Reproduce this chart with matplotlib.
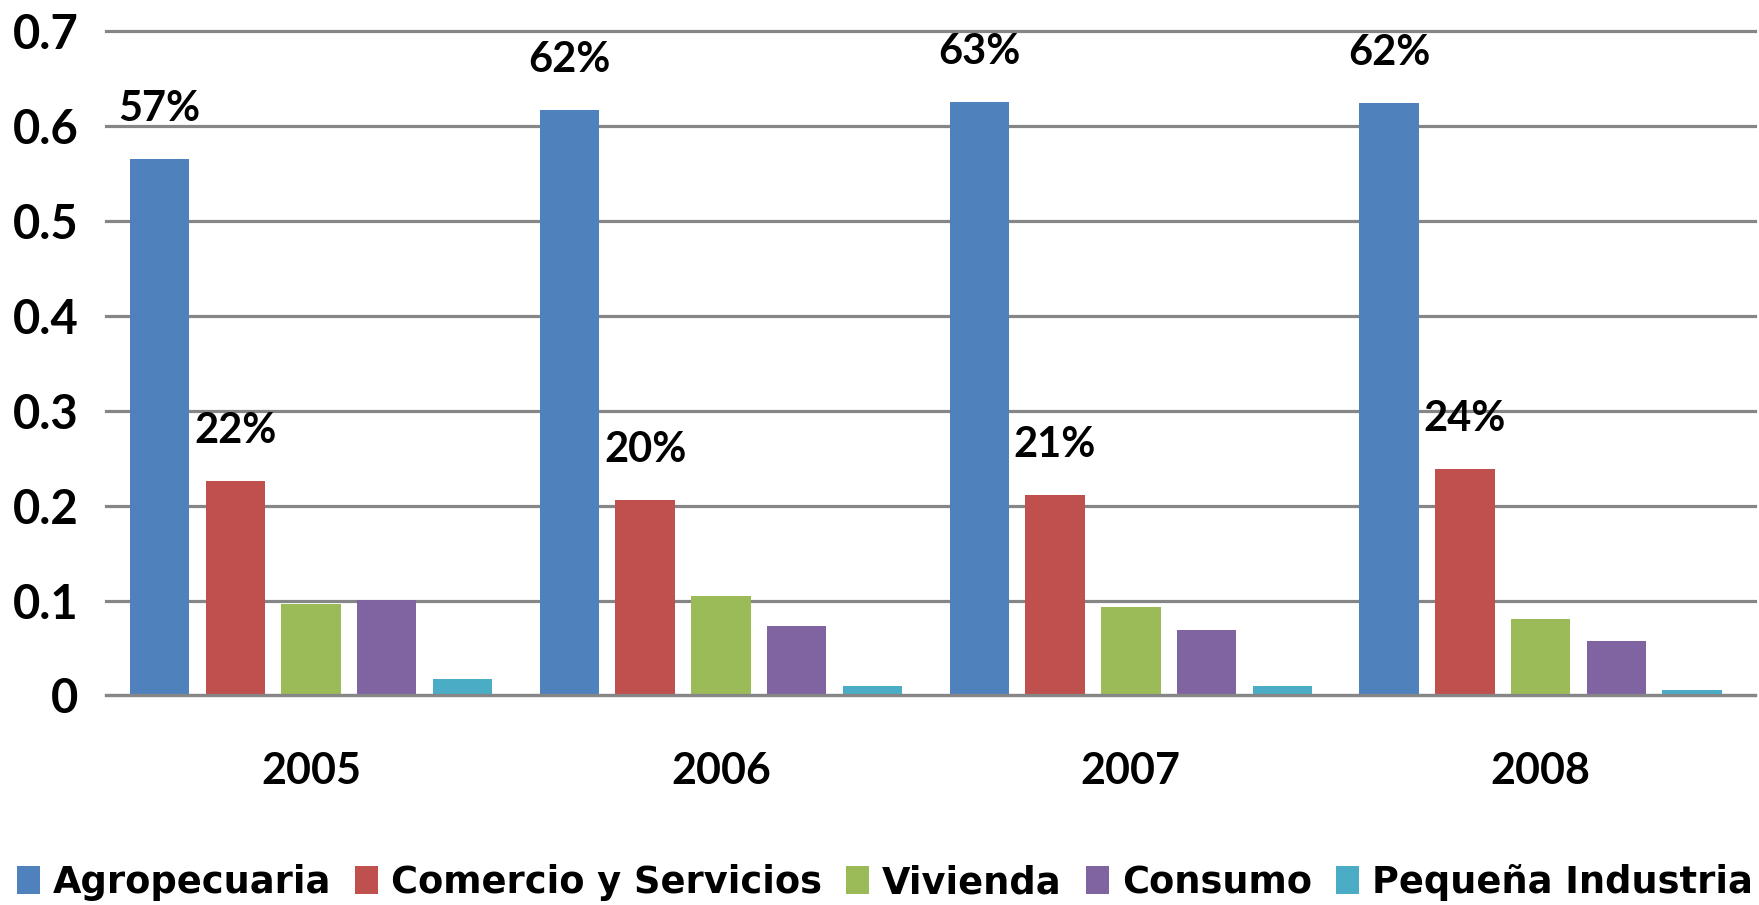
import numpy as np
import matplotlib
matplotlib.use('Agg')
import matplotlib.pyplot as plt
from matplotlib.patches import Patch

years = ['2005', '2006', '2007', '2008']
series_names = ['Agropecuaria', 'Comercio y Servicios', 'Vivienda', 'Consumo', 'Pequeña Industria']
agropecuaria = [0.566, 0.617, 0.626, 0.625]
comercio = [0.226, 0.206, 0.211, 0.239]
vivienda = [0.096, 0.105, 0.093, 0.081]
consumo = [0.101, 0.073, 0.069, 0.057]
pequena = [0.017, 0.010, 0.010, 0.006]
agro_labels = ['57%', '62%', '63%', '62%']
comercio_labels = ['22%', '20%', '21%', '24%']
y_ticks = [0, 0.1, 0.2, 0.3, 0.4, 0.5, 0.6, 0.7]
y_tick_labels = ['0', '0.1', '0.2', '0.3', '0.4', '0.5', '0.6', '0.7']

colors = ['#4F81BD', '#C0504D', '#9BBB59', '#8064A2', '#4BACC6']
all_series = [agropecuaria, comercio, vivienda, consumo, pequena]
bar_labels = {0: agro_labels, 1: comercio_labels}

plt.rcParams['font.family'] = ['Lato', 'DejaVu Sans']
plt.rcParams['font.weight'] = 'bold'

fig = plt.figure(figsize=(17.59, 9.05), dpi=100)
ax = fig.add_axes([0.0603, 0.2315, 0.9377, 0.7338])

x = np.arange(len(years))
step = 0.1848
width = 0.145
for i, vals in enumerate(all_series):
    pos = x + (i - 2) * step
    bars = ax.bar(pos, vals, width, color=colors[i], zorder=3)
    if i in bar_labels:
        for b, v, txt in zip(bars, vals, bar_labels[i]):
            ax.annotate(txt, (b.get_x() + b.get_width() / 2, v),
                        xytext=(0, 36), textcoords='offset points',
                        ha='center', va='center', fontsize=30, fontweight='bold')

ax.set_xlim(-0.5, len(years) - 0.476)
ax.set_ylim(0, 0.7)
ax.set_yticks(y_ticks)
ax.set_yticklabels(y_tick_labels)
ax.set_xticks(x)
ax.set_xticklabels(years)
ax.tick_params(axis='y', length=0, pad=20, labelsize=34)
ax.tick_params(axis='x', length=0, pad=40, labelsize=31)
for lab in ax.get_xticklabels() + ax.get_yticklabels():
    lab.set_fontweight('bold')

for s in ax.spines.values():
    s.set_visible(False)
ax.set_axisbelow(True)
ax.grid(axis='y', color='#868686', linewidth=2.3, clip_on=False)
ax.axhline(0, color='#868686', linewidth=2.3, zorder=4, clip_on=False)

handles = [Patch(facecolor=c) for c in colors]
fig.legend(handles, series_names, loc='lower center', bbox_to_anchor=(0.503, -0.02),
           ncol=5, frameon=False, prop={'family': 'DejaVu Sans', 'weight': 'bold', 'size': 26.5},
           handlelength=0.62, handleheight=0.78, handletextpad=0.36, columnspacing=0.65,
           borderaxespad=0.2)

fig.savefig('out.png', dpi=100)
